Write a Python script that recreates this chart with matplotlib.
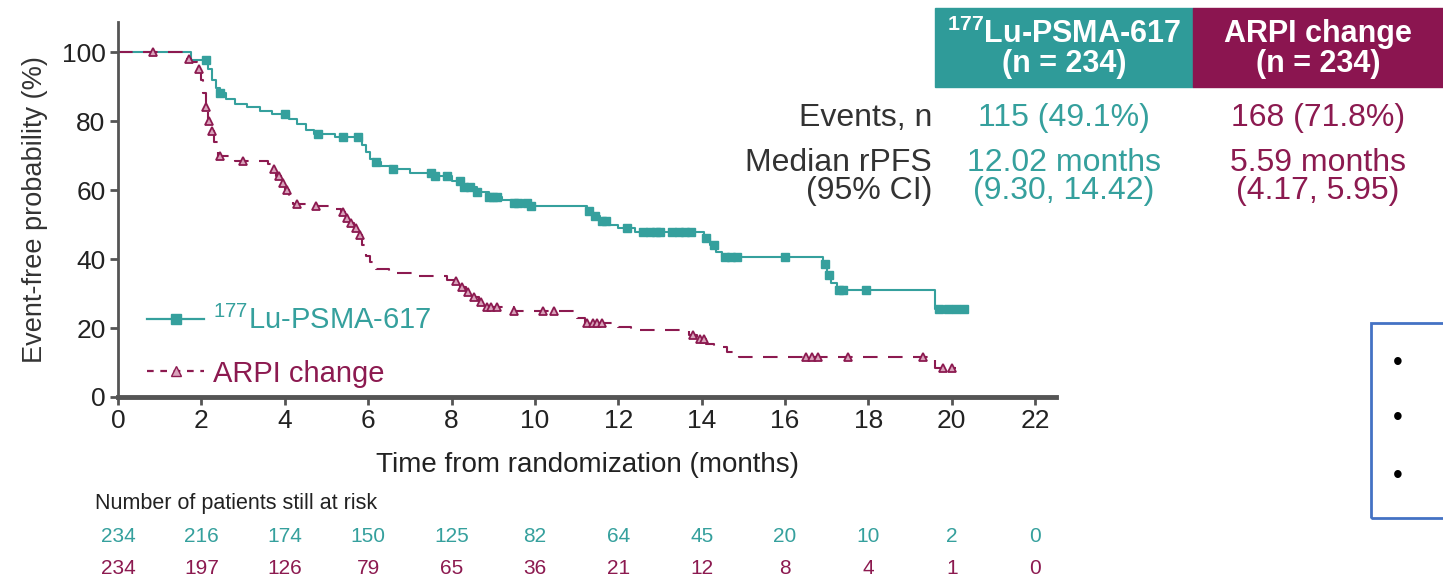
import numpy as np
import matplotlib.pyplot as plt
from matplotlib.lines import Line2D
from matplotlib.patches import Rectangle
from matplotlib.transforms import blended_transform_factory

plt.rcParams['font.family'] = ['Liberation Sans', 'DejaVu Sans']
plt.rcParams['mathtext.fontset'] = 'custom'
plt.rcParams['mathtext.rm'] = 'Liberation Sans'
plt.rcParams['mathtext.bf'] = 'Liberation Sans:bold'

TEAL = '#35a09d'
MAGENTA = '#8c1a50'
W, H = 1443, 583

# Kaplan-Meier step points (months, event-free %)
lu_t = [0, 1.75, 2.15, 2.25, 2.35, 2.45, 2.6, 2.8, 3.1, 3.4, 3.7, 4.1, 4.3, 4.5, 4.7, 5.2,
        5.85, 5.95, 6.05, 6.15, 6.3, 6.6, 7.0, 7.6, 8.0, 8.3, 8.6, 8.9, 9.2, 9.5, 9.9,
        11.25, 11.4, 11.55, 11.75, 12.0, 12.4, 14.05, 14.2, 14.35, 14.5,
        16.9, 17.0, 17.1, 17.25, 19.6, 20.35]
lu_s = [100, 97.6, 95, 92, 89.5, 88, 86.5, 85, 84, 83, 82, 80.5, 79, 77.5, 76.3, 75.3,
        73, 71, 69, 68, 67, 66, 65, 64, 62.5, 61, 59.5, 58, 57, 56.3, 55.3,
        54, 52.5, 51, 50, 49, 47.8, 46, 44, 42, 40.5,
        38.5, 35.5, 33, 31, 25.5, 25.5]
lu_cens = [2.1, 2.45, 4.0, 4.8, 5.4, 5.75, 6.2, 6.6, 7.5, 7.6, 7.9, 8.2, 8.3, 8.45, 8.6,
           8.9, 9.0, 9.1, 9.5, 9.6, 9.8, 9.9, 11.3, 11.45, 11.6, 11.7, 12.2,
           12.6, 12.75, 12.9, 13.0, 13.3, 13.45, 13.6, 13.75, 14.1, 14.3,
           14.55, 14.7, 14.85, 16.0, 16.95, 17.05, 17.3, 17.4, 17.95,
           19.7, 19.9, 20.1, 20.3]

arpi_t = [0, 1.6, 1.75, 1.9, 2.0, 2.05, 2.1, 2.15, 2.2, 2.3, 2.4, 2.8, 3.6, 3.7, 3.8,
          3.9, 4.0, 4.1, 4.2, 4.5, 5.2, 5.35, 5.45, 5.55, 5.65, 5.75, 5.85, 5.95, 6.05,
          6.2, 6.5, 7.2, 7.9, 8.05, 8.2, 8.35, 8.5, 8.65, 8.8, 9.5, 11.0, 11.2, 12.0,
          12.3, 13.7, 13.9, 14.1, 14.3, 14.6, 14.9, 19.6, 20.1]
arpi_s = [100, 98, 97, 95, 92, 88, 84, 80, 77, 74, 70, 68.5, 67.5, 66, 64,
          62, 60, 58, 56, 55.3, 54.5, 53.5, 52, 50.5, 49, 47, 44, 41, 39,
          37, 36, 35, 34, 33.5, 32, 30.5, 29, 27.5, 26, 25, 23, 21.5, 20.2,
          19.3, 18, 16.8, 15.5, 14.5, 13, 11.6, 8.3, 8.3]
arpi_cens = [0.85, 1.7, 1.95, 2.12, 2.18, 2.25, 2.45, 3.0, 3.75, 3.85, 3.95, 4.05,
             4.3, 4.75, 5.4, 5.5, 5.6, 5.7, 5.8, 8.1, 8.25, 8.4, 8.55, 8.7, 8.85,
             8.95, 9.1, 9.5, 10.2, 10.45, 11.25, 11.4, 11.5, 11.6, 13.8, 13.95,
             14.05, 16.5, 16.65, 16.8, 17.5, 19.3, 19.8, 20.0]

# table header and summary values
arm_names = [r'$^{\mathrm{177}}$Lu-PSMA-617', 'ARPI change']
arm_names_bold = [r'$^{\mathbf{177}}$Lu-PSMA-617', 'ARPI change']
arm_n = [234, 234]
events = ['115 (49.1%)', '168 (71.8%)']
median = ['12.02 months', '5.59 months']
median_ci = ['(9.30, 14.42)', '(4.17, 5.95)']

# number at risk
risk_times = [0, 2, 4, 6, 8, 10, 12, 14, 16, 18, 20, 22]
lu_risk = [234, 216, 174, 150, 125, 82, 64, 45, 20, 10, 2, 0]
arpi_risk = [234, 197, 126, 79, 65, 36, 21, 12, 8, 4, 1, 0]


def fx(px):
    return px / W


def fy(py):
    return 1 - py / H


def step_value(times, surv, t):
    idx = np.searchsorted(times, t, side='right') - 1
    return np.asarray(surv)[idx]


fig = plt.figure(figsize=(W / 100, H / 100), dpi=100)
ax = fig.add_axes([fx(118), fy(397), fx(1056 - 118), (397 - 22) / H])

ax.step(lu_t, lu_s, where='post', color=TEAL, lw=1.5)
ax.plot(lu_cens, step_value(lu_t, lu_s, lu_cens), 's', color=TEAL, ms=5.5, mec=TEAL)
ax.step(arpi_t, arpi_s, where='post', color=MAGENTA, lw=1.5, dashes=(7, 5))
ax.plot(arpi_cens, step_value(arpi_t, arpi_s, arpi_cens), '^', color=MAGENTA, ms=6,
        mfc='#d9a3bb', mew=1.3)

ax.set_xlim(0, 22.5)
ax.set_ylim(0, 108.7)
ax.set_xticks(np.arange(0, 23, 2))
ax.set_yticks(np.arange(0, 101, 20))
for side in ['top', 'right']:
    ax.spines[side].set_visible(False)
ax.spines['left'].set_color('#555555')
ax.spines['left'].set_linewidth(2)
ax.spines['bottom'].set_color('#555555')
ax.spines['bottom'].set_linewidth(3.5)
ax.tick_params(length=6, width=2, color='#555555', labelsize=19, labelcolor='#222222', pad=3)
ax.set_ylabel('Event-free probability (%)', fontsize=19.5, color='#333333', labelpad=10)
ax.set_xlabel('Time from randomization (months)', fontsize=20, color='#222222', labelpad=13)

handles = [Line2D([], [], color=TEAL, lw=1.6, marker='s', ms=7),
           Line2D([], [], color=MAGENTA, lw=1.6, dashes=(3, 3), marker='^', ms=7,
                  mfc='#d9a3bb')]
leg = ax.legend(handles, arm_names, loc='lower left',
                bbox_to_anchor=(0.003, -0.045), frameon=False, fontsize=21,
                handlelength=1.95, handletextpad=0.3, labelspacing=0.85)
for txt, c in zip(leg.get_texts(), [TEAL, MAGENTA]):
    txt.set_color(c)

# summary table at top right
fig.patches.append(Rectangle((fx(935), fy(87)), fx(1193 - 935), (87 - 8) / H,
                             transform=fig.transFigure, color='#2f9b99', zorder=0))
fig.patches.append(Rectangle((fx(1193), fy(87)), fx(W - 1193), (87 - 8) / H,
                             transform=fig.transFigure, color='#8b1550', zorder=0))
for cx, name, n in zip([1064, 1318], arm_names_bold, arm_n):
    fig.text(fx(cx), fy(34), name, ha='center', va='center', color='white',
             fontsize=22, fontweight='bold')
    fig.text(fx(cx), fy(64), '(n = {})'.format(n), ha='center', va='center',
             color='white', fontsize=22, fontweight='bold')

fig.text(fx(932), fy(118), 'Events, n', ha='right', va='center', fontsize=23, color='#333333')
fig.text(fx(932), fy(163), 'Median rPFS', ha='right', va='center', fontsize=23, color='#333333')
fig.text(fx(932), fy(191), '(95% CI)', ha='right', va='center', fontsize=23, color='#333333')
for cx, c, ev, md, ci in zip([1064, 1318], [TEAL, MAGENTA], events, median, median_ci):
    fig.text(fx(cx), fy(118), ev, ha='center', va='center', fontsize=23, color=c)
    fig.text(fx(cx), fy(163), md, ha='center', va='center', fontsize=23, color=c)
    fig.text(fx(cx), fy(191), ci, ha='center', va='center', fontsize=23, color=c)

# number at risk table
fig.text(fx(95), fy(503), 'Number of patients still at risk', ha='left', va='center',
         fontsize=15.5, color='#222222')
risk_trans = blended_transform_factory(ax.transData, fig.transFigure)
for t, a, b in zip(risk_times, lu_risk, arpi_risk):
    ax.text(t, fy(537), str(a), transform=risk_trans, ha='center', va='center',
            fontsize=15, color=TEAL)
    ax.text(t, fy(568), str(b), transform=risk_trans, ha='center', va='center',
            fontsize=15, color=MAGENTA)

# blue callout box at the right edge
fig.patches.append(Rectangle((fx(1371), fy(518)), fx(100), (518 - 323) / H,
                             transform=fig.transFigure, fill=False, ec='#4472c4', lw=2))
for by in [363, 418, 476]:
    fig.text(fx(1398), fy(by), '\u2022', ha='center', va='center', fontsize=20, color='black')

fig.savefig('out.png', dpi=100)
